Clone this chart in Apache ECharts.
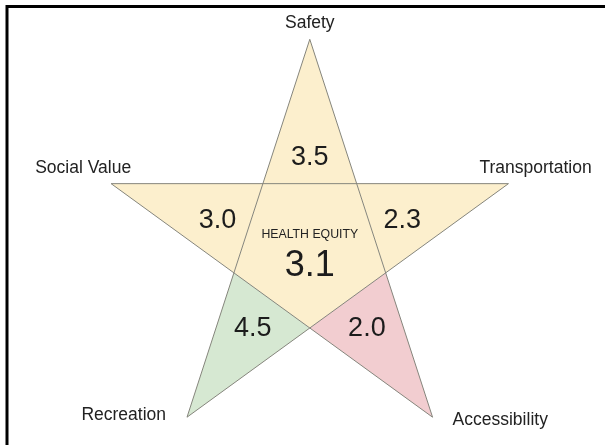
<!DOCTYPE html>
<html>
<head>
<meta charset="utf-8">
<script src="https://cdn.jsdelivr.net/npm/echarts@6/dist/echarts.min.js"></script>
<style>
  html, body { margin: 0; padding: 0; background: #fff; }
  #chart { width: 605px; height: 445px; }
</style>
</head>
<body>
<div id="chart"></div>
<script>
// star points, clockwise from the top
const categories = ['Safety', 'Transportation', 'Accessibility', 'Recreation', 'Social Value']
const scores = [3.5, 2.3, 2.0, 4.5, 3.0]
const centerTitle = 'HEALTH EQUITY'
const centerScore = 3.1

const INNER = 0.382  // inner radius of a regular pentagram (outer = 1)
const FONT = '"Liberation Sans", Arial, sans-serif'

function colorFor(v) {
  if (v >= 4) return '#d6e8d2'
  if (v <= 2) return '#f2cdd0'
  return '#fcefcd'
}
function angleOf(i) { return (90 - 72 * i) * Math.PI / 180 }
function polar(r, a) { return [r * Math.cos(a), r * Math.sin(a)] }

// where each name sits relative to its tip (pixels)
const nameOffsets = [
  { dx: 0, dy: -16, align: 'center' },
  { dx: -29, dy: -15, align: 'left' },
  { dx: 20, dy: 3, align: 'left' },
  { dx: -21, dy: -2, align: 'right' },
  { dx: 20, dy: -15, align: 'right' }
]
const scoreRadius = [0.445, 0.465, 0.465, 0.465, 0.465]

const chart = echarts.init(document.getElementById('chart'))

const option = {
  animation: false,
  grid: { left: 17.34, right: 2.76, top: 18.41, bottom: 8.79 },
  xAxis: { type: 'value', min: -1.4, max: 1.4, show: false },
  yAxis: { type: 'value', min: -0.9, max: 1.1, show: false },
  graphic: [{
    type: 'rect',
    shape: { x: 7, y: 6.5, width: 700, height: 600 },
    style: { fill: 'none', stroke: '#000', lineWidth: 3 },
    silent: true
  }],
  series: [
    {
      // centre pentagon
      type: 'custom',
      z: 1,
      data: [[centerScore]],
      renderItem: function (params, api) {
        const pts = []
        for (let i = 0; i < 5; i++) pts.push(api.coord(polar(INNER, angleOf(i) + Math.PI / 5)))
        return {
          type: 'polygon',
          shape: { points: pts },
          style: { fill: colorFor(api.value(0)) }
        }
      }
    },
    {
      // star tips
      type: 'custom',
      z: 1,
      data: scores.map((s, i) => [i, s]),
      renderItem: function (params, api) {
        const i = api.value(0)
        const a = angleOf(i)
        const pts = [
          api.coord(polar(1, a)),
          api.coord(polar(INNER, a - Math.PI / 5)),
          api.coord(polar(INNER, a + Math.PI / 5))
        ]
        return {
          type: 'polygon',
          shape: { points: pts },
          style: { fill: colorFor(api.value(1)) }
        }
      }
    },
    {
      // the five straight edges of the star
      type: 'custom',
      z: 2,
      data: categories.map((c, i) => [i]),
      renderItem: function (params, api) {
        const i = api.value(0)
        const p1 = api.coord(polar(1, angleOf(i)))
        const p2 = api.coord(polar(1, angleOf((i + 2) % 5)))
        return {
          type: 'line',
          shape: { x1: p1[0], y1: p1[1], x2: p2[0], y2: p2[1] },
          style: { stroke: '#85857c', lineWidth: 1 }
        }
      }
    },
    {
      // texts
      type: 'custom',
      z: 3,
      data: scores.map((s, i) => [i, s]),
      renderItem: function (params, api) {
        const i = api.value(0)
        const a = angleOf(i)
        const tip = api.coord(polar(1, a))
        const mid = api.coord(polar(scoreRadius[i], a))
        const off = nameOffsets[i]
        return {
          type: 'group',
          children: [
            {
              type: 'text',
              x: mid[0], y: mid[1] + 2,
              style: {
                text: api.value(1).toFixed(1),
                font: '27px ' + FONT,
                fill: '#1c1c1c',
                align: 'center',
                verticalAlign: 'middle'
              }
            },
            {
              type: 'text',
              x: tip[0] + off.dx, y: tip[1] + off.dy,
              style: {
                text: categories[i],
                font: '17.5px ' + FONT,
                fill: '#222',
                align: off.align,
                verticalAlign: 'middle'
              }
            }
          ]
        }
      }
    },
    {
      // centre texts
      type: 'custom',
      z: 3,
      data: [[centerScore]],
      renderItem: function (params, api) {
        const t = api.coord([0, 0.068])
        const v = api.coord([0, -0.076])
        return {
          type: 'group',
          children: [
            {
              type: 'text', x: t[0], y: t[1] + 1,
              style: { text: centerTitle, font: '12.3px ' + FONT, fill: '#222', align: 'center', verticalAlign: 'middle' }
            },
            {
              type: 'text', x: v[0], y: v[1] + 2,
              style: { text: api.value(0).toFixed(1), font: '36px ' + FONT, fill: '#1c1c1c', align: 'center', verticalAlign: 'middle' }
            }
          ]
        }
      }
    }
  ]
}

chart.setOption(option)
</script>
</body>
</html>
